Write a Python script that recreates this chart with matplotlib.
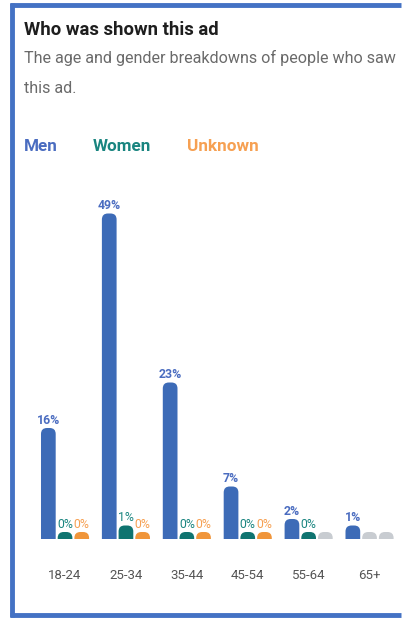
import numpy as np
import matplotlib
matplotlib.use("Agg")
import matplotlib.pyplot as plt
from matplotlib.patches import FancyBboxPatch
from matplotlib.lines import Line2D

plt.rcParams['font.family'] = ['Roboto', 'DejaVu Sans']

# data (nan = no data, drawn grey)
age_groups = ['18-24', '25-34', '35-44', '45-54', '55-64', '65+']
men = [16, 49, 23, 7, 2, 1]
women = [0, 1, 0, 0, 0, np.nan]
unknown = [0, 0, 0, 0, np.nan, np.nan]
series_names = ['Men', 'Women', 'Unknown']

bar_colors = ['#3d6bb7', '#0f7470', '#f0953a']
label_colors = ['#4a6cc0', '#1a8580', '#f6a052']
grey = '#c8ccd1'

W, H = 402, 620
fig = plt.figure(figsize=((W + 0.01) / 100, (H + 0.01) / 100), dpi=100)

def fx(x):
    return x / W

def fy(y):
    return 1 - y / H

# blue frame, open on the right (three separate strokes)
frame = dict(transform=fig.transFigure, color='#4472c4', linewidth=3.5,
             solid_capstyle='butt')
fig.lines.append(Line2D([fx(10.25), fx(401)], [fy(5), fy(5)], **frame))
fig.lines.append(Line2D([fx(12), fx(12)], [fy(3.25), fy(616.75)], **frame))
fig.lines.append(Line2D([fx(10.25), fx(401)], [fy(615), fy(615)], **frame))

fig.text(fx(24), fy(30), 'Who was shown this ad', fontsize=13.3, fontweight='bold',
         color='#1e1e1e', va='center', ha='left')
fig.text(fx(24), fy(58), 'The age and gender breakdowns of people who saw',
         fontsize=11.6, color='#6a6a6a', va='center', ha='left')
fig.text(fx(24), fy(88), 'this ad.', fontsize=11.6, color='#6a6a6a', va='center', ha='left')

leg_x = [24, 93, 187]
for name, col, x in zip(series_names, label_colors, leg_x):
    fig.text(fx(x), fy(146), name, fontsize=12.3, fontweight='bold', color=col,
             va='center', ha='left')

# axes: baseline at y=539px, 6.5 px per percent, 60.9 px per group
px_per_pct = 6.5
px_per_grp = 60.9
ax_left, ax_right = 28.5, 28.5 + 6.2 * px_per_grp
ax_bottom, ax_top = 539, 180
ax = fig.add_axes([fx(ax_left), fy(ax_bottom), fx(ax_right - ax_left), fy(ax_top) - fy(ax_bottom)])
ax.set_xlim(-0.6, 5.6)
ax.set_ylim(0, (ax_bottom - ax_top) / px_per_pct)
ax.axis('off')

offset = 16.7 / px_per_grp
bw = 14.7 / px_per_grp
min_h = 7 / px_per_pct
r = 6 / px_per_grp
aspect = px_per_grp / px_per_pct

x = np.arange(len(age_groups))
for k, vals in enumerate([men, women, unknown]):
    for i, v in enumerate(vals):
        xc = x[i] + (k - 1) * offset
        no_data = np.isnan(v)
        h = (0 if no_data else v) + min_h
        col = grey if no_data else bar_colors[k]
        p = FancyBboxPatch((xc - bw / 2, -2), bw, h + 2,
                           boxstyle='round,pad=0,rounding_size=%f' % r,
                           mutation_aspect=aspect, facecolor=col, edgecolor='none')
        ax.add_patch(p)
        if not no_data:
            ax.text(xc, h + 0.2, '%d%%' % v, ha='center', va='bottom', fontsize=8.8,
                    color=label_colors[k], fontweight='bold' if k == 0 else 'normal')

for i, lab in enumerate(age_groups):
    fig.text(fx(ax_left + (x[i] + 0.6) * px_per_grp), fy(575), lab, fontsize=9.5,
             color='#555555', ha='center', va='center')

fig.savefig('out.png', dpi=100)
